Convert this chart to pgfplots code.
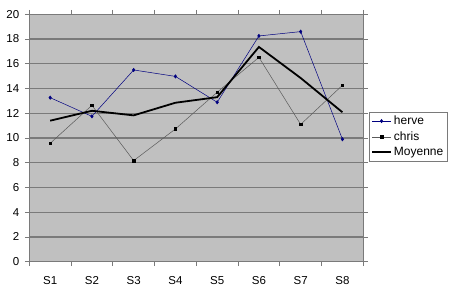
\documentclass[border=0pt]{standalone}
\usepackage{pgfplots}
\pgfplotsset{compat=1.18}
\usepackage{fontspec}
\setmainfont{Liberation Sans}
\definecolor{plotbg}{HTML}{C0C0C0}
\definecolor{gridc}{HTML}{7A7A7A}
\definecolor{herve}{HTML}{000080}
\definecolor{chris}{HTML}{5A5A5A}
\begin{document}
\begin{tikzpicture}[x=1pt,y=1pt]
\useasboundingbox (-29.3,-33.3) rectangle (420.7,261.7);
\begin{axis}[
  at={(0,0)}, anchor=south west,
  scale only axis, width=334pt, height=247.4pt,
  xmin=0.5, xmax=8.5, ymin=0, ymax=20,
  ytick={0,2,...,20},
  x tick label as interval,
  xtick={0.5,1.5,...,8.5},
  xticklabels={S1,S2,S3,S4,S5,S6,S7,S8},
  xticklabel style={anchor=north, text height=14.5pt, text depth=0pt},
  yticklabel style={xshift=-2pt},
  tick align=outside, major tick length=4.5pt,
  tick style={draw=gridc, line width=0.8pt},
  axis background/.style={fill=plotbg},
  axis line style={draw=gridc, line width=0.8pt},
  ymajorgrids, major grid style={draw=gridc, line width=1.1pt},
  tick label style={font=\fontsize{11.5}{13}\selectfont},
  /pgf/number format/assume math mode=true,
  legend style={at={(1.017,0.606)}, anchor=north west, draw=gridc, fill=white,
     font=\fontsize{12}{14}\selectfont, inner xsep=2pt, inner ysep=2pt, row sep=1.5pt,
     legend cell align=left},
  legend image code/.code={
     \draw[mark repeat=2,mark phase=2,#1] plot coordinates {(0pt,0pt) (9.5pt,0pt) (19pt,0pt)};},
  clip=false,
]
\addplot[color=herve, line width=0.5pt, mark=diamond*, mark size=1.7pt, mark options={fill=herve}] coordinates {
 (1,13.26) (2,11.75) (3,15.5) (4,14.98) (5,12.89) (6,18.25) (7,18.6) (8,9.9)};
\addlegendentry{herve}
\addplot[color=chris, line width=0.5pt, mark=square*, mark size=1.3pt, mark options={fill=black, draw=black}] coordinates {
 (1,9.57) (2,12.64) (3,8.17) (4,10.73) (5,13.7) (6,16.52) (7,11.1) (8,14.26)};
\addlegendentry{chris}
\addplot[color=black, line width=1.8pt, mark=none] coordinates {
 (1,11.4) (2,12.2) (3,11.83) (4,12.85) (5,13.3) (6,17.36) (7,14.85) (8,12.08)};
\addlegendentry{Moyenne}
\end{axis}
\end{tikzpicture}
\end{document}
